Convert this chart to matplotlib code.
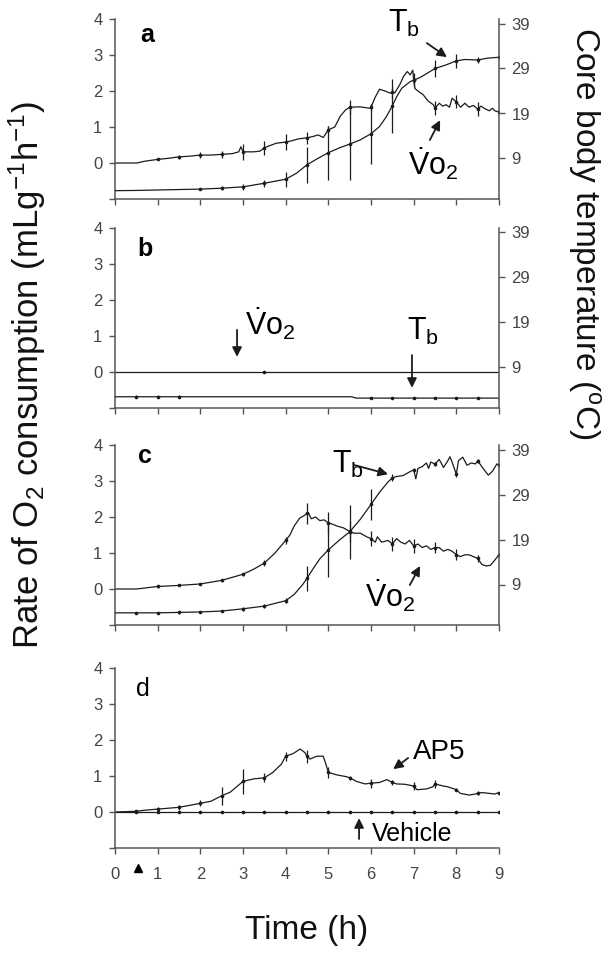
import numpy as np
import matplotlib
matplotlib.use('Agg')
import matplotlib.pyplot as plt
from matplotlib import font_manager

# police : Arial-like, narrow pour les graduations si dispo
names = {f.name for f in font_manager.fontManager.ttflist}
narrow = 'Liberation Sans Narrow' if 'Liberation Sans Narrow' in names else 'Liberation Sans'

plt.rcParams['font.family'] = ['Liberation Sans', 'DejaVu Sans']
plt.rcParams['mathtext.fontset'] = 'custom'
plt.rcParams['mathtext.rm'] = 'Liberation Sans'
plt.rcParams['mathtext.it'] = 'Liberation Sans:italic'
plt.rcParams['mathtext.bf'] = 'Liberation Sans:bold'

LINE = '#1c1c1c'
SPINE = '#555555'
TXT = '#444444'

# ---- données (temps en h, VO2 en mL/g/h, Tb en degC) ----
hours = [0, 1, 2, 3, 4, 5, 6, 7, 8, 9]

a_vo2 = [(0, 0.0), (0.5, 0.0), (0.55, 0.01), (0.7, 0.05), (1.0, 0.1), (1.25, 0.13), (1.5, 0.17),
         (1.75, 0.19), (2.0, 0.22), (2.25, 0.22), (2.5, 0.24), (2.75, 0.26), (2.9, 0.31), (2.95, 0.45),
         (3.0, 0.31), (3.25, 0.31), (3.4, 0.33), (3.5, 0.42), (3.6, 0.47), (3.78, 0.55), (4.0, 0.58),
         (4.15, 0.62), (4.3, 0.67), (4.5, 0.7), (4.65, 0.74), (4.76, 0.78), (4.88, 0.71), (5.0, 0.92),
         (5.15, 1.0), (5.28, 1.3), (5.4, 1.47), (5.5, 1.55), (5.74, 1.56), (5.98, 1.52), (6.0, 1.55),
         (6.1, 1.83), (6.2, 2.05), (6.33, 2.0), (6.45, 1.94), (6.5, 1.96), (6.56, 1.95), (6.68, 2.19),
         (6.76, 2.4), (6.85, 2.54), (6.92, 2.45), (6.98, 2.58), (7.0, 2.3), (7.03, 2.07), (7.1, 2.0),
         (7.22, 1.9), (7.34, 1.72), (7.46, 1.62), (7.5, 1.52), (7.6, 1.66), (7.68, 1.58), (7.76, 1.62),
         (7.84, 1.55), (7.9, 1.8), (8.0, 1.7), (8.1, 1.55), (8.2, 1.66), (8.3, 1.55), (8.4, 1.6),
         (8.5, 1.5), (8.58, 1.58), (8.65, 1.52), (8.77, 1.45), (8.85, 1.52), (8.9, 1.45), (9.0, 1.42)]
a_vo2_err = [(1.0, 0.03), (1.5, 0.05), (2.0, 0.08), (2.5, 0.1), (3.0, 0.22), (3.5, 0.2), (4.0, 0.22),
             (4.5, 0.17), (5.0, 0.1), (5.5, 0.2), (6.0, 0.1), (6.5, 0.15), (7.0, 0.2), (7.5, 0.2),
             (8.0, 0.18), (8.5, 0.2), (9.0, 0.1)]
a_tb = [(0, 1.85), (0.5, 1.9), (1.0, 2.0), (1.5, 2.1), (2.0, 2.2), (2.5, 2.4), (3.0, 2.7), (3.5, 3.5),
        (4.0, 4.4), (4.25, 5.7), (4.5, 7.6), (4.75, 9.0), (5.0, 10.3), (5.27, 11.4), (5.5, 12.2),
        (5.74, 13.1), (6.0, 14.5), (6.2, 16.1), (6.36, 18.3), (6.5, 20.7), (6.6, 22.7), (6.72, 24.6),
        (6.92, 26.1), (7.0, 26.4), (7.15, 27.0), (7.38, 28.3), (7.5, 29.0), (7.76, 29.8), (8.0, 30.7),
        (8.2, 31.0), (8.5, 30.9), (8.73, 31.3), (9.0, 31.5)]
a_tb_err = [(2.0, 0.3), (2.5, 0.4), (3.0, 0.6), (3.5, 0.8), (4.0, 1.7), (4.5, 4.0), (5.0, 6.0),
            (5.5, 8.0), (6.0, 6.7), (6.5, 6.0), (7.0, 0.8), (7.5, 1.8), (8.0, 1.6), (8.5, 0.7), (9.0, 0.4)]

b_vo2 = [(0, 0.0), (3.5, 0.0), (9.0, 0.0)]
b_vo2_err = [(3.5, 0.04)]
b_tb = [(0, 2.5), (0.5, 2.5), (1.0, 2.5), (1.5, 2.5), (5.55, 2.5), (5.65, 2.2), (6.0, 2.2), (6.5, 2.2),
        (7.0, 2.2), (7.5, 2.2), (8.0, 2.2), (8.5, 2.2), (9.0, 2.2)]
b_tb_err = [(0.5, 0.3), (1.0, 0.3), (1.5, 0.3), (6.0, 0.3), (6.5, 0.3), (7.0, 0.3), (7.5, 0.3),
            (8.0, 0.3), (8.5, 0.3)]

c_vo2 = [(0, 0.0), (0.5, 0.0), (1.0, 0.07), (1.5, 0.1), (2.0, 0.14), (2.5, 0.24), (3.0, 0.41),
         (3.25, 0.55), (3.5, 0.72), (3.75, 1.0), (4.0, 1.35), (4.1, 1.5), (4.2, 1.75), (4.33, 1.97),
         (4.45, 2.05), (4.5, 2.1), (4.53, 2.12), (4.6, 1.95), (4.7, 2.0), (4.8, 1.9), (4.9, 1.92),
         (5.0, 1.84), (5.1, 1.8), (5.2, 1.75), (5.35, 1.7), (5.5, 1.6), (5.6, 1.55), (5.75, 1.55),
         (5.9, 1.45), (6.0, 1.4), (6.1, 1.3), (6.15, 1.45), (6.25, 1.3), (6.4, 1.35), (6.5, 1.25),
         (6.6, 1.4), (6.7, 1.3), (6.8, 1.25), (6.9, 1.35), (7.0, 1.2), (7.1, 1.25), (7.2, 1.15),
         (7.3, 1.2), (7.4, 1.1), (7.5, 1.15), (7.6, 1.15), (7.7, 1.05), (7.8, 1.1), (7.9, 1.05),
         (8.0, 0.95), (8.1, 0.9), (8.2, 0.95), (8.3, 0.95), (8.4, 0.9), (8.5, 0.85), (8.6, 0.68),
         (8.7, 0.64), (8.8, 0.66), (8.9, 0.8), (9.0, 0.95)]
c_vo2_err = [(1.0, 0.03), (1.5, 0.03), (2.0, 0.04), (2.5, 0.04), (3.0, 0.04), (3.5, 0.08), (4.0, 0.1),
             (4.5, 0.3), (5.0, 0.3), (5.5, 0.3), (6.0, 0.2), (6.5, 0.2), (7.0, 0.2), (7.5, 0.15),
             (8.0, 0.15), (8.5, 0.1), (9.0, 0.1)]
c_tb = [(0, 2.7), (0.5, 2.7), (1.0, 2.7), (1.5, 2.8), (2.0, 2.9), (2.5, 3.1), (3.0, 3.6), (3.5, 4.2),
        (4.0, 5.4), (4.2, 6.8), (4.4, 9.0), (4.5, 10.4), (4.65, 12.6), (4.8, 14.7), (5.0, 16.7),
        (5.25, 18.8), (5.5, 20.7), (5.75, 23.5), (6.0, 26.8), (6.2, 29.5), (6.4, 31.8), (6.5, 32.7),
        (6.6, 33.0), (6.75, 33.2), (6.9, 34.0), (7.0, 34.5), (7.05, 32.5), (7.1, 34.8), (7.2, 35.2),
        (7.3, 36.0), (7.35, 34.8), (7.4, 36.2), (7.5, 35.8), (7.6, 36.8), (7.7, 35.0), (7.8, 36.5),
        (7.85, 37.4), (7.9, 36.2), (8.0, 33.5), (8.05, 36.5), (8.15, 37.3), (8.25, 35.5), (8.35, 36.0),
        (8.45, 35.8), (8.5, 36.5), (8.65, 34.5), (8.75, 33.3), (8.85, 34.2), (8.95, 35.8), (9.0, 35.5)]
c_tb_err = [(0.5, 0.3), (1.0, 0.3), (1.5, 0.3), (2.0, 0.3), (2.5, 0.3), (3.0, 0.4), (3.5, 0.5),
            (4.0, 0.6), (4.5, 2.8), (5.0, 6.0), (5.5, 6.0), (6.0, 3.5), (6.5, 0.8), (7.0, 0.5),
            (7.5, 0.5), (8.0, 0.5), (8.5, 0.5), (9.0, 0.3)]

d_ap5 = [(0, 0.0), (0.5, 0.02), (0.7, 0.05), (1.0, 0.08), (1.5, 0.13), (2.0, 0.24), (2.25, 0.3),
         (2.5, 0.45), (2.7, 0.55), (2.9, 0.75), (3.0, 0.85), (3.25, 0.92), (3.5, 0.95), (3.7, 1.1),
         (3.9, 1.33), (4.0, 1.55), (4.17, 1.62), (4.34, 1.75), (4.45, 1.65), (4.5, 1.55), (4.57, 1.47),
         (4.73, 1.55), (4.88, 1.55), (4.95, 1.3), (5.0, 1.1), (5.2, 1.03), (5.43, 0.98), (5.5, 0.95),
         (5.66, 0.85), (5.86, 0.78), (6.0, 0.8), (6.2, 0.82), (6.37, 0.9), (6.5, 0.82), (6.6, 0.78),
         (6.8, 0.77), (7.0, 0.72), (7.08, 0.62), (7.3, 0.64), (7.45, 0.7), (7.5, 0.78), (7.7, 0.72),
         (7.8, 0.7), (8.0, 0.62), (8.09, 0.52), (8.3, 0.47), (8.45, 0.5), (8.5, 0.52), (8.6, 0.54),
         (8.75, 0.52), (8.9, 0.5), (9.0, 0.54)]
d_ap5_err = [(0.5, 0.02), (1.0, 0.05), (1.5, 0.07), (2.0, 0.08), (2.5, 0.25), (3.0, 0.35), (3.5, 0.12),
             (4.0, 0.12), (4.5, 0.18), (5.0, 0.15), (5.5, 0.06), (6.0, 0.12), (6.5, 0.08), (7.0, 0.1),
             (7.5, 0.1), (8.0, 0.05), (8.5, 0.05), (9.0, 0.03)]
d_veh = [(0, 0.0), (0.5, 0.0), (1.0, 0.0), (1.5, 0.0), (2.0, 0.0), (2.5, 0.0), (3.0, 0.0), (3.5, 0.0),
         (4.0, 0.0), (4.5, 0.0), (5.0, 0.0), (5.5, 0.0), (6.0, 0.0), (6.5, 0.0), (7.0, 0.0), (7.5, 0.0),
         (8.0, 0.0), (8.5, 0.0), (9.0, 0.0)]
d_veh_err = [(0.5, 0.03), (1.0, 0.03), (1.5, 0.03), (2.0, 0.03), (2.5, 0.03), (3.0, 0.03), (3.5, 0.03),
             (4.0, 0.03), (4.5, 0.03), (5.0, 0.03), (5.5, 0.03), (6.0, 0.03), (6.5, 0.03), (7.0, 0.03),
             (7.5, 0.03), (8.0, 0.03), (8.5, 0.03), (9.0, 0.03)]

W, H = 604, 957
fig = plt.figure(figsize=(W / 100, H / 100), dpi=100)


def px_axes(top, bottom, left=115, right=499):
    return fig.add_axes([left / W, 1 - bottom / H, (right - left) / W, (bottom - top) / H])


def style(ax, show_x=False, right=True):
    ax.set_xlim(0, 9)
    ax.set_ylim(-1, 4)
    ax.set_xticks(hours)
    ax.set_yticks([-1, 0, 1, 2, 3, 4])
    ax.set_yticklabels(['', '0', '1', '2', '3', '4'])
    ax.spines['top'].set_visible(False)
    ax.spines['right'].set_visible(False)
    for s in ('left', 'bottom'):
        ax.spines[s].set_color(SPINE)
        ax.spines[s].set_linewidth(1.1)
    ax.tick_params(direction='out', length=4, width=1, color=SPINE, labelcolor=TXT, labelsize=12)
    ax.tick_params(axis='y', pad=5)
    ax.tick_params(axis='x', pad=10, labelbottom=show_x)
    for lab in ax.get_xticklabels() + ax.get_yticklabels():
        lab.set_family(narrow)
    if not right:
        return None
    ax2 = ax.twinx()
    ax2.set_ylim(0, 40)
    ax2.set_yticks([9, 19, 29, 39])
    for s in ('top', 'left', 'bottom'):
        ax2.spines[s].set_visible(False)
    ax2.spines['right'].set_color(SPINE)
    ax2.spines['right'].set_linewidth(1.1)
    ax2.tick_params(direction='out', length=4, width=1, color=SPINE, labelcolor=TXT, labelsize=12, pad=5)
    for lab in ax2.get_yticklabels():
        lab.set_family(narrow)
    return ax2


def trace(ax, pts, bars):
    t, v = np.array(pts).T
    ax.plot(t, v, color=LINE, lw=0.9)
    look = dict(pts)
    bt = [b[0] for b in bars]
    bc = [look[b[0]] for b in bars]
    be = [b[1] for b in bars]
    ax.errorbar(bt, bc, yerr=be, fmt='o', ms=1.6, color=LINE, elinewidth=0.9, capsize=0)


def arrow(ax, tail, tip):
    ax.annotate('', xy=tip, xytext=tail,
                arrowprops=dict(arrowstyle='-|>', color=LINE, lw=1.3, mutation_scale=14,
                                shrinkA=0, shrinkB=0))


VO2 = r'$\dot{\mathrm{V}}\mathrm{o}_{2}$'
TB = r'$\mathrm{T}_{\mathrm{b}}$'

# a
ax = px_axes(19, 199)
ax2 = style(ax)
trace(ax, a_vo2, a_vo2_err)
trace(ax2, a_tb, a_tb_err)
ax.text(0.75, 3.36, 'a', fontsize=18, fontweight='bold', ha='center', va='baseline')
ax.text(6.4, 3.64, TB, fontsize=22, ha='left', va='baseline')
arrow(ax, (7.31, 3.33), (7.78, 2.94))
ax.text(6.87, -0.33, VO2, fontsize=22, ha='left', va='baseline')
arrow(ax, (7.38, 0.64), (7.62, 1.19))

# b
ax = px_axes(228, 408)
ax2 = style(ax)
trace(ax, b_vo2, b_vo2_err)
trace(ax2, b_tb, b_tb_err)
ax.text(0.7, 3.22, 'b', fontsize=18, fontweight='bold', ha='center', va='baseline')
ax.text(3.05, 1.03, VO2, fontsize=22, ha='left', va='baseline')
arrow(ax, (2.86, 1.17), (2.86, 0.42))
ax.text(6.84, 0.89, TB, fontsize=22, ha='left', va='baseline')
arrow(ax, (6.96, 0.47), (6.96, -0.44))

# c
ax = px_axes(445, 625)
ax2 = style(ax)
trace(ax, c_vo2, c_vo2_err)
trace(ax2, c_tb, c_tb_err)
ax.text(0.7, 3.5, 'c', fontsize=18, fontweight='bold', ha='center', va='baseline')
ax.text(5.09, 3.22, TB, fontsize=22, ha='left', va='baseline')
arrow(ax, (5.62, 3.44), (6.4, 3.19))
ax.text(5.86, -0.5, VO2, fontsize=22, ha='left', va='baseline')
arrow(ax, (6.91, 0.11), (7.15, 0.64))

# d
ax = px_axes(668, 848)
style(ax, show_x=True, right=False)
trace(ax, d_veh, d_veh_err)
trace(ax, d_ap5, d_ap5_err)
ax.text(0.65, 3.22, 'd', fontsize=18, ha='center', va='baseline')
ax.text(6.98, 1.47, 'AP5', fontsize=20, ha='left', va='baseline')
arrow(ax, (6.87, 1.5), (6.52, 1.19))
ax.text(6.02, -0.8, 'Vehicle', fontsize=18, ha='left', va='baseline')
arrow(ax, (5.72, -0.75), (5.72, -0.17))
ax.plot([0.54], [-1.55], marker='^', ms=6, color='black', clip_on=False)

fig.text(27 / W, 1 - 375 / H, r'Rate of O$_2$ consumption (mLg$^{-1}$h$^{-1}$)',
         rotation=90, ha='center', va='center', fontsize=25, color='#111111')
fig.text(584 / W, 1 - 234 / H, r'Core body temperature ($^{\mathrm{o}}$C)',
         rotation=-90, ha='center', va='center', fontsize=24, color='#111111')
fig.text(307 / W, 1 - 930 / H, 'Time (h)', ha='center', va='center', fontsize=24, color='#111111')

fig.savefig('out.png', dpi=100)
